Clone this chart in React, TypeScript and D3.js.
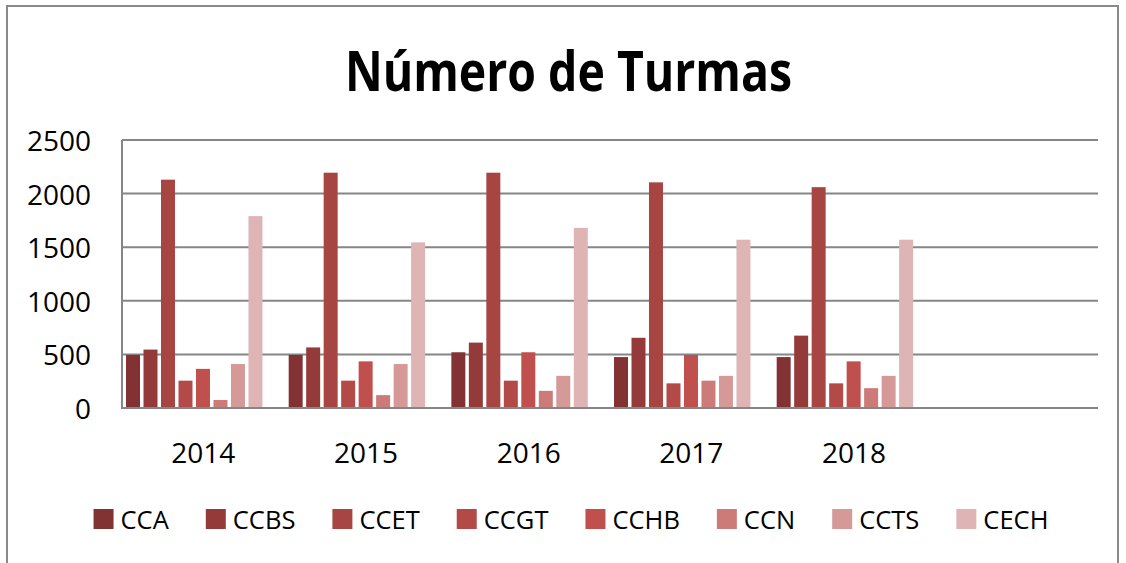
import { useEffect, useRef } from 'react';
import * as d3 from 'd3';

const years = ['2014', '2015', '2016', '2017', '2018', ''];
const seriesNames = ['CCA', 'CCBS', 'CCET', 'CCGT', 'CCHB', 'CCN', 'CCTS', 'CECH'];
const cca = [495, 495, 520, 475, 475];
const ccbs = [545, 565, 610, 655, 675];
const ccet = [2130, 2195, 2195, 2105, 2060];
const ccgt = [255, 255, 255, 230, 230];
const cchb = [365, 435, 520, 495, 435];
const ccn = [75, 120, 160, 255, 185];
const ccts = [410, 410, 300, 300, 300];
const cech = [1790, 1545, 1680, 1570, 1570];
const yTicks = [0, 500, 1000, 1500, 2000, 2500];
const colors = ['#833234', '#943a39', '#a74543', '#b44a48', '#c0504d', '#cc7b79', '#d59998', '#dfb4b4'];

const App = () => {
    const ref = useRef<SVGSVGElement>(null);

    useEffect(() => {
        const seriesValues = [cca, ccbs, ccet, ccgt, cchb, ccn, ccts, cech];
        const font = '"Open Sans", sans-serif';
        const svg = d3.select(ref.current);
        svg.selectAll('*').remove();

        // chart frame
        svg.append('rect')
            .attr('x', 7).attr('y', 6)
            .attr('width', 1111).attr('height', 620)
            .attr('fill', '#fff')
            .attr('stroke', '#8a8a8a')
            .attr('stroke-width', 2);

        svg.append('text')
            .text('Número de Turmas')
            .attr('x', 345).attr('y', 91)
            .attr('font-family', font)
            .attr('font-weight', 'bold')
            .attr('font-size', 56)
            .attr('textLength', 447)
            .attr('lengthAdjust', 'spacingAndGlyphs')
            .attr('fill', '#000');

        const left = 122, right = 1098, top = 140, bottom = 408;

        const x = d3.scaleBand().domain(years).range([left, right]);
        const xs = d3.scaleBand()
            .domain(seriesNames)
            .range([0, x.bandwidth()])
            .paddingInner(0.2)
            .paddingOuter(0.75)
            .align(0.153);
        const y = d3.scaleLinear().domain([0, 2500]).range([bottom, top]);

        // gridlines
        svg.append('g')
            .selectAll('line')
            .data(yTicks.filter(t => t > 0))
            .enter().append('line')
            .attr('x1', left).attr('x2', right)
            .attr('y1', (d: number) => y(d)).attr('y2', (d: number) => y(d))
            .attr('stroke', '#868686')
            .attr('stroke-width', 2);

        svg.append('line')
            .attr('x1', left).attr('x2', left)
            .attr('y1', top).attr('y2', bottom)
            .attr('stroke', '#868686')
            .attr('stroke-width', 2);

        svg.append('g')
            .selectAll('text')
            .data(yTicks)
            .enter().append('text')
            .text((d: number) => d)
            .attr('x', 91)
            .attr('y', (d: number) => y(d) + 11)
            .attr('text-anchor', 'end')
            .attr('font-family', font)
            .attr('font-size', 28)
            .attr('fill', '#000');

        // bars
        seriesNames.forEach((name, i) => {
            svg.append('g')
                .attr('fill', colors[i])
                .selectAll('rect')
                .data(seriesValues[i])
                .enter().append('rect')
                .attr('x', (d: number, j: number) => (x(years[j]) as number) + (xs(name) as number))
                .attr('y', (d: number) => y(d))
                .attr('width', xs.bandwidth())
                .attr('height', (d: number) => y(0) - y(d));
        });

        svg.append('line')
            .attr('x1', left - 1).attr('x2', right)
            .attr('y1', bottom).attr('y2', bottom)
            .attr('stroke', '#868686')
            .attr('stroke-width', 2);

        svg.append('g')
            .selectAll('text')
            .data(years)
            .enter().append('text')
            .text((d: string) => d)
            .attr('x', (d: string) => (x(d) as number) + x.bandwidth() / 2)
            .attr('y', 463)
            .attr('text-anchor', 'middle')
            .attr('font-family', font)
            .attr('font-size', 28)
            .attr('fill', '#000');

        // legend, laid out from measured text widths
        const legendG = svg.append('g');
        const items = legendG.selectAll('.legend')
            .data(seriesNames)
            .enter().append('g')
            .attr('class', 'legend');
        items.append('rect')
            .attr('width', 20).attr('height', 20)
            .attr('y', 509)
            .attr('fill', (d: string, i: number) => colors[i]);
        items.append('text')
            .text((d: string) => d)
            .attr('y', 529)
            .attr('x', 27)
            .attr('font-family', font)
            .attr('font-size', 25.5)
            .attr('fill', '#000');

        const widths: number[] = [];
        items.select('text').each(function (this: any) {
            widths.push(this.getComputedTextLength());
        });
        const gap = 37;
        const total = widths.reduce((s, w) => s + 27 + w + gap, 0) - gap;
        let cx = 571 - total / 2;
        items.attr('transform', (d: string, i: number) => {
            const t = 'translate(' + cx + ',0)';
            cx += 27 + widths[i] + gap;
            return t;
        });
    }, []);

    return (
        <svg ref={ref} width={1126} height={563}
            style={{ position: 'absolute', left: 0, top: 0 }} />
    );
};

export default App;
